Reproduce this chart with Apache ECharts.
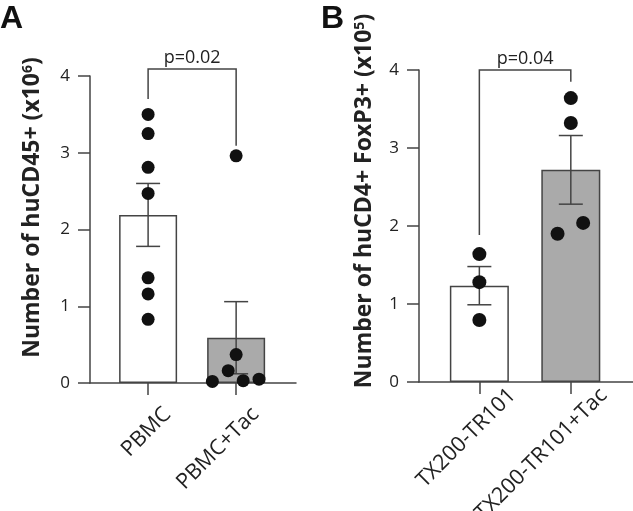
<!DOCTYPE html>
<html>
<head>
<meta charset="utf-8">
<script src="https://cdn.jsdelivr.net/npm/echarts@6/dist/echarts.min.js"></script>
<style>
html,body{margin:0;padding:0;background:#fff;}
#chart{width:633px;height:511px;}
</style>
</head>
<body>
<div id="chart"></div>
<script>
// ---------- DATA ----------
const catsA = ['PBMC', 'PBMC+Tac'];
const meanA = [2.19, 0.59];
const semA = [0.41, 0.47];
const ptsA1 = [3.50, 3.25, 2.81, 2.47, 1.37, 1.16, 0.83];
const jitA1 = [0, 0, 0, 0, 0, 0, 0];
const ptsA2 = [2.96, 0.37, 0.16, 0.02, 0.03, 0.05];
const jitA2 = [0, 0, -0.09, -0.27, 0.08, 0.26];
const pA = 'p=0.02';
const bracketA = [0, 1, 4.09, 3.70, 3.09]; // x1, x2, top, left end, right end

const catsB = ['TX200-TR101', 'TX200-TR101+Tac'];
const meanB = [1.235, 2.72];
const semB = [0.245, 0.44];
const ptsB1 = [1.64, 1.28, 0.795];
const jitB1 = [0, 0, 0];
const ptsB2 = [3.64, 3.32, 1.90, 2.04];
const jitB2 = [0, 0, -0.145, 0.135];
const pB = 'p=0.04';
const bracketB = [0, 1, 4.0, 1.885, 3.85];

const yTicks = [0, 1, 2, 3, 4];
const titleA = ['Number of huCD45+ (x10', '6', ')'];
const titleB = ['Number of huCD4+ FoxP3+ (x10', '5', ')'];

// ---------- STYLE ----------
const FONT = 'Open Sans';
const TXT = '#222';
const LINE = '#444';
const BAR_FILLS = ['#ffffff', '#aaaaaa'];
const shiftA = 0.22, shiftB = 0.36;

function mkX(gi, cats, shift, margin) {
  return {
    type: 'value', gridIndex: gi, min: -0.66, max: 1.68,
    splitLine: { show: false },
    axisLine: { onZero: false, lineStyle: { color: LINE, width: 1.5 } },
    axisTick: { customValues: [0, 1], length: 12, lineStyle: { color: LINE, width: 1.5 } },
    axisLabel: {
      customValues: [0 + shift, 1 + shift],
      formatter: v => cats[Math.round(v - shift)],
      rotate: 45, margin: margin, fontSize: 21.5, color: TXT, fontFamily: FONT
    }
  };
}
function mkY(gi, title, gap, pad) {
  return {
    type: 'value', gridIndex: gi, min: yTicks[0], max: yTicks[yTicks.length - 1], interval: 1,
    splitLine: { show: false },
    axisLine: { show: true, onZero: false, lineStyle: { color: LINE, width: 1.5 } },
    axisTick: { show: true, length: 12, lineStyle: { color: LINE, width: 1.5 } },
    axisLabel: { margin: 20, fontSize: 17, color: TXT, fontFamily: FONT },
    name: '{a|' + title[0] + '}{s|' + title[1] + '}{a|' + title[2] + '}',
    nameLocation: 'middle', nameRotate: 90, nameGap: gap,
    nameTextStyle: {
      padding: [0, 0, 0, pad],
      rich: {
        a: { fontSize: 23, fontWeight: 'bold', color: TXT, fontFamily: FONT },
        s: { fontSize: 14, fontWeight: 'bold', color: TXT, fontFamily: FONT, verticalAlign: 'top' }
      }
    }
  };
}
function barSeries(gi, means) {
  return {
    type: 'bar', xAxisIndex: gi, yAxisIndex: gi, barWidth: gi === 0 ? 58 : 59, z: 2,
    data: means.map((m, i) => ({ value: [i, m], itemStyle: { color: BAR_FILLS[i] } })),
    itemStyle: { borderColor: LINE, borderWidth: 1.5 }
  };
}
function errSeries(gi, means, sems) {
  return {
    type: 'custom', xAxisIndex: gi, yAxisIndex: gi, z: 3, clip: false,
    data: means.map((m, i) => [i, m, sems[i]]),
    renderItem: function (params, api) {
      const x = api.value(0), m = api.value(1), s = api.value(2);
      const hi = api.coord([x, m + s]), lo = api.coord([x, m - s]);
      const st = { stroke: LINE, lineWidth: 1.5 };
      const cw = 12;
      return { type: 'group', children: [
        { type: 'line', shape: { x1: hi[0], y1: hi[1], x2: lo[0], y2: lo[1] }, style: st },
        { type: 'line', shape: { x1: hi[0] - cw, y1: hi[1], x2: hi[0] + cw, y2: hi[1] }, style: st },
        { type: 'line', shape: { x1: lo[0] - cw, y1: lo[1], x2: lo[0] + cw, y2: lo[1] }, style: st }
      ]};
    }
  };
}
function dotSeries(gi, idx, pts, jit, size) {
  return {
    type: 'scatter', xAxisIndex: gi, yAxisIndex: gi, z: 4, symbolSize: size,
    itemStyle: { color: '#111', opacity: 1 },
    data: pts.map((v, i) => [idx + jit[i], v])
  };
}
function bracketSeries(gi, br, label) {
  return {
    type: 'custom', xAxisIndex: gi, yAxisIndex: gi, z: 5, clip: false,
    data: [br],
    renderItem: function (params, api) {
      const a = api.coord([api.value(0), api.value(3)]);
      const b = api.coord([api.value(0), api.value(2)]);
      const c = api.coord([api.value(1), api.value(2)]);
      const d = api.coord([api.value(1), api.value(4)]);
      return { type: 'group', children: [
        { type: 'polyline', shape: { points: [a, b, c, d] }, style: { stroke: LINE, lineWidth: 1.5, fill: null } },
        { type: 'text', x: (b[0] + c[0]) / 2, y: b[1] - 11,
          style: { text: label, font: '18px "' + FONT + '"', fill: TXT, align: 'center', verticalAlign: 'middle' } }
      ]};
    }
  };
}

const chart = echarts.init(document.getElementById('chart'), null, { renderer: 'canvas' });
chart.setOption({
  animation: false,
  backgroundColor: '#fff',
  title: [
    { text: 'A', left: 0, top: 3, padding: 0, textStyle: { fontSize: 32, fontWeight: 'bold', color: '#111', fontFamily: 'Liberation Sans' } },
    { text: 'B', left: 321, top: 3, padding: 0, textStyle: { fontSize: 32, fontWeight: 'bold', color: '#111', fontFamily: 'Liberation Sans' } }
  ],
  grid: [
    { left: 90, width: 206, top: 76, height: 307, outerBoundsMode: 'none', containLabel: false },
    { left: 419, width: 214, top: 70, height: 312, outerBoundsMode: 'none', containLabel: false }
  ],
  xAxis: [mkX(0, catsA, shiftA, 28), mkX(1, catsB, shiftB, 10)],
  yAxis: [mkY(0, titleA, 46, 44), mkY(1, titleB, 43, 50)],
  series: [
    barSeries(0, meanA), errSeries(0, meanA, semA),
    dotSeries(0, 0, ptsA1, jitA1, 13), dotSeries(0, 1, ptsA2, jitA2, 13),
    bracketSeries(0, bracketA, pA),
    barSeries(1, meanB), errSeries(1, meanB, semB),
    dotSeries(1, 0, ptsB1, jitB1, 14), dotSeries(1, 1, ptsB2, jitB2, 14),
    bracketSeries(1, bracketB, pB)
  ]
});
</script>
</body>
</html>
